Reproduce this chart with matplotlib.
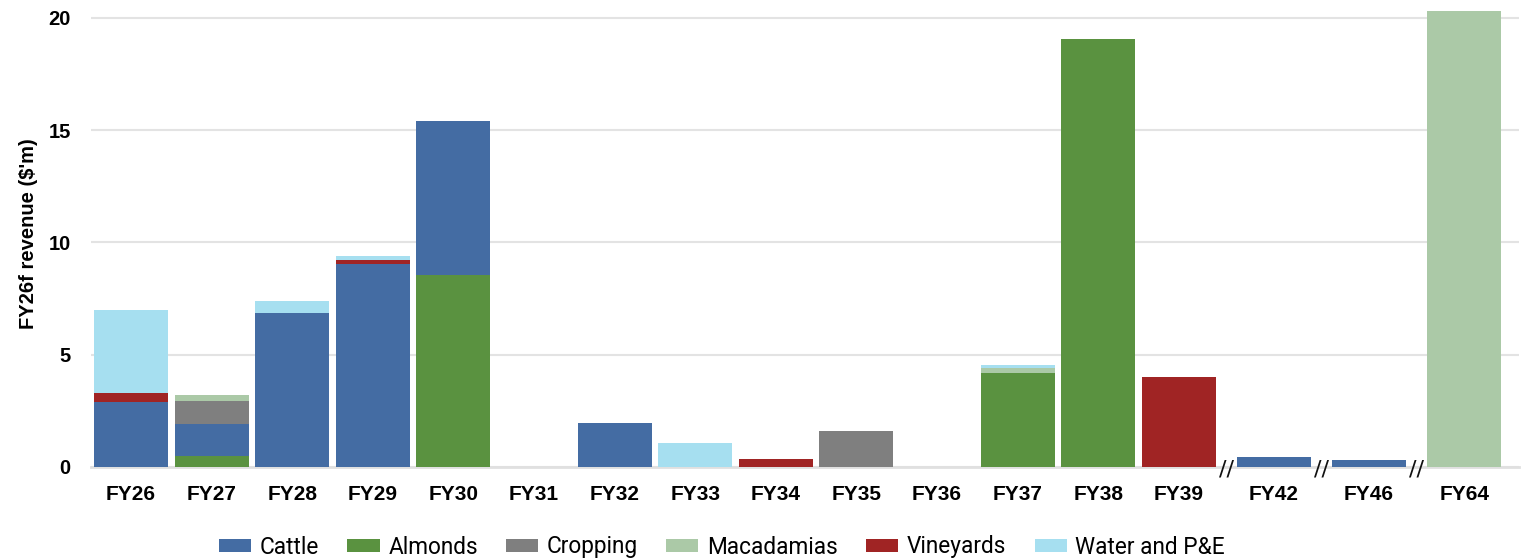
import numpy as np
import matplotlib
matplotlib.use("Agg")
import matplotlib.pyplot as plt
from matplotlib.patches import Patch

categories = ["FY26", "FY27", "FY28", "FY29", "FY30", "FY31", "FY32", "FY33", "FY34",
              "FY35", "FY36", "FY37", "FY38", "FY39", "FY42", "FY46", "FY64"]

cattle      = [2.90, 1.43, 6.86, 9.05, 6.85, 0, 1.97, 0,    0,    0,    0, 0,    0,     0,    0.46, 0.31, 0]
almonds     = [0,    0.49, 0,    0,    8.57, 0, 0,    0,    0,    0,    0, 4.20, 19.06, 0,    0,    0,    0]
cropping    = [0,    1.02, -0.08, 0,   0,    0, 0,    0,    0,    1.60, 0, 0,    0,     0,    0,    0,    0]
macadamias  = [0,    0.27, 0,    0,    0,    0, 0,    0,    0,    0,    0, 0.21, 0,     0,    0,    0,    20.31]
vineyards   = [0.40, 0,    0,    0.18, 0,    0, 0,    0,    0.36, 0,    0, 0,    0,     4.00, 0,    0,    0]
water_pe    = [3.69, 0,    0.53, 0.18, 0,    0, 0,    1.07, 0,    0,    0, 0.13, 0,     0,    0,    0,    0]

series_names = ["Cattle", "Almonds", "Cropping", "Macadamias", "Vineyards", "Water and P&E"]
colors = {"Cattle": "#446ca3", "Almonds": "#5a9240", "Cropping": "#7f7f7f",
          "Macadamias": "#abc9a7", "Vineyards": "#a02424", "Water and P&E": "#a6dff0"}
series = {"Cattle": cattle, "Almonds": almonds, "Cropping": cropping,
          "Macadamias": macadamias, "Vineyards": vineyards, "Water and P&E": water_pe}
stack_order = ["Almonds", "Cattle", "Cropping", "Macadamias", "Vineyards", "Water and P&E"]
breaks_after = ["FY39", "FY42", "FY46"]

# positions with extra gap at axis breaks
gap = 0.18
xs = []
extra = 0.0
for i, c in enumerate(categories):
    xs.append(i + extra)
    if c in breaks_after:
        extra += gap
xs = np.array(xs)

fig = plt.figure(figsize=(15.21, 5.59), dpi=100)
ax = fig.add_axes([91/1521, 1 - 467/559, (1519 - 91)/1521, 467/559])

width = 0.917
pos_bottom = np.zeros(len(categories))
neg_bottom = np.zeros(len(categories))
for name in stack_order:
    vals = np.array(series[name], dtype=float)
    bottoms = np.where(vals >= 0, pos_bottom, neg_bottom)
    ax.bar(xs, vals, width=width, bottom=bottoms, color=colors[name], linewidth=0, zorder=3)
    pos_bottom += np.where(vals > 0, vals, 0)
    neg_bottom += np.where(vals < 0, vals, 0)

ax.set_ylim(0, 20.8)
ax.set_xlim(xs[0] - 0.496, xs[-1] + 0.68)
ax.set_yticks([0, 5, 10, 15, 20])
ax.yaxis.grid(True, color="#e3e3e3", linewidth=1.5, zorder=0)
ax.set_axisbelow(True)
for s in ["top", "right", "left"]:
    ax.spines[s].set_visible(False)
ax.spines["bottom"].set_color("#e0e0e0")
ax.spines["bottom"].set_linewidth(2)
ax.spines["bottom"].set_zorder(2)

ax.set_xticks(xs)
ax.set_xticklabels(categories, fontsize=15, fontweight="bold", family="Liberation Sans")
ax.tick_params(axis="x", length=0, pad=13)
ax.tick_params(axis="y", length=0, pad=14.5)
for lbl in ax.get_yticklabels():
    lbl.set_fontsize(14.5)
    lbl.set_fontweight("bold")
    lbl.set_family("Liberation Sans")

ax.set_ylabel("FY26f revenue ($'m)", fontsize=14.5, fontweight="bold", family="Liberation Sans")
ax.yaxis.set_label_coords(-0.037, 0.5)

# break marks
for c in breaks_after:
    i = categories.index(c)
    xm = (xs[i] + xs[i + 1]) / 2
    ax.text(xm, -0.1, "//", ha="center", va="center", fontsize=16, color="#111111",
            family="DejaVu Sans", zorder=5, clip_on=False)

handles = [Patch(facecolor=colors[n], edgecolor="none") for n in series_names]
fig.legend(handles, series_names, loc="center", bbox_to_anchor=(722/1521, 1 - 547/559),
           ncol=6, frameon=False, prop={"family": "Roboto", "size": 16.3},
           handlelength=1.42, handleheight=0.52, handletextpad=0.38, columnspacing=1.25,
           borderpad=0, borderaxespad=0)

fig.savefig("out.png", dpi=100)
